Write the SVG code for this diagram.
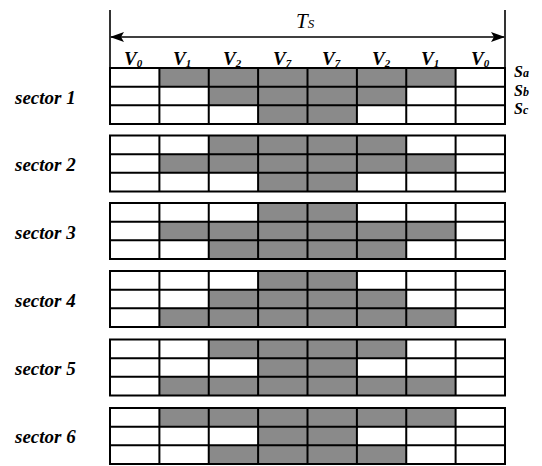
<svg xmlns="http://www.w3.org/2000/svg" width="542" height="466" viewBox="0 0 542 466">
<style>
.sh{fill:#8a8a8a}
.grid{fill:none;stroke:#000;stroke-width:2}
.conn{stroke:#000;stroke-width:1.6;fill:none}
</style>
<defs>
<marker id="ah" viewBox="0 0 14 10" refX="13" refY="5" markerWidth="14" markerHeight="10" markerUnits="userSpaceOnUse" orient="auto-start-reverse">
<path d="M0,0 L14,5 L0,10 L3,5 z" fill="#000"/>
</marker>
<g id="gridlines">
<rect class="grid" x="110" y="0" width="395" height="56"/>
<path class="grid" d="M110,18.67H505M110,37.33H505M159.4,0V56M208.75,0V56M258.1,0V56M307.5,0V56M356.9,0V56M406.25,0V56M455.6,0V56"/>
</g>
<rect id="A" class="sh" x="159.4" y="0" width="296.2" height="18.67"/>
<rect id="B" class="sh" x="208.75" y="0" width="197.5" height="18.67"/>
<rect id="C" class="sh" x="258.1" y="0" width="98.8" height="18.67"/>
</defs>

<g id="connectors">
<line class="conn" x1="110" y1="10" x2="110" y2="68"/>
<line class="conn" x1="505" y1="10" x2="505" y2="68"/>
<line class="conn" x1="111" y1="37" x2="504" y2="37" marker-start="url(#ah)" marker-end="url(#ah)"/>
</g>

<g id="header" font-family="Liberation Serif, DejaVu Serif, serif" font-style="italic" font-weight="bold" fill="#000">
<text x="296" y="28" font-size="21" font-weight="normal">T<tspan font-size="13" dy="0">S</tspan></text>
<g font-size="19">
<text x="124" y="65">V<tspan font-size="11" dy="2">0</tspan></text>
<text x="173" y="65">V<tspan font-size="11" dy="2">1</tspan></text>
<text x="223" y="65">V<tspan font-size="11" dy="2">2</tspan></text>
<text x="273" y="65">V<tspan font-size="11" dy="2">7</tspan></text>
<text x="322" y="65">V<tspan font-size="11" dy="2">7</tspan></text>
<text x="372" y="65">V<tspan font-size="11" dy="2">2</tspan></text>
<text x="421" y="65">V<tspan font-size="11" dy="2">1</tspan></text>
<text x="471" y="65">V<tspan font-size="11" dy="2">0</tspan></text>
</g>
<g font-size="16">
<text x="514" y="77">S<tspan font-size="12">a</tspan></text>
<text x="514" y="95.5">S<tspan font-size="12">b</tspan></text>
<text x="514" y="114">S<tspan font-size="12">c</tspan></text>
</g>
</g>

<g font-family="Liberation Serif, DejaVu Serif, serif" font-style="italic" font-weight="bold" font-size="19" fill="#000">
<g id="sector1">
<text x="15" y="104">sector 1</text>
<g transform="translate(0,68)">
<use href="#A" y="0"/><use href="#B" y="18.67"/><use href="#C" y="37.33"/>
<use href="#gridlines"/>
</g>
</g>
<g id="sector2">
<text x="15" y="171">sector 2</text>
<g transform="translate(0,135.5)">
<use href="#B" y="0"/><use href="#A" y="18.67"/><use href="#C" y="37.33"/>
<use href="#gridlines"/>
</g>
</g>
<g id="sector3">
<text x="15" y="239">sector 3</text>
<g transform="translate(0,203)">
<use href="#C" y="0"/><use href="#A" y="18.67"/><use href="#B" y="37.33"/>
<use href="#gridlines"/>
</g>
</g>
<g id="sector4">
<text x="15" y="307">sector 4</text>
<g transform="translate(0,271)">
<use href="#C" y="0"/><use href="#B" y="18.67"/><use href="#A" y="37.33"/>
<use href="#gridlines"/>
</g>
</g>
<g id="sector5">
<text x="15" y="375">sector 5</text>
<g transform="translate(0,339.5)">
<use href="#B" y="0"/><use href="#C" y="18.67"/><use href="#A" y="37.33"/>
<use href="#gridlines"/>
</g>
</g>
<g id="sector6">
<text x="15" y="443">sector 6</text>
<g transform="translate(0,408)">
<use href="#A" y="0"/><use href="#C" y="18.67"/><use href="#B" y="37.33"/>
<use href="#gridlines"/>
</g>
</g>
</g>
</svg>
